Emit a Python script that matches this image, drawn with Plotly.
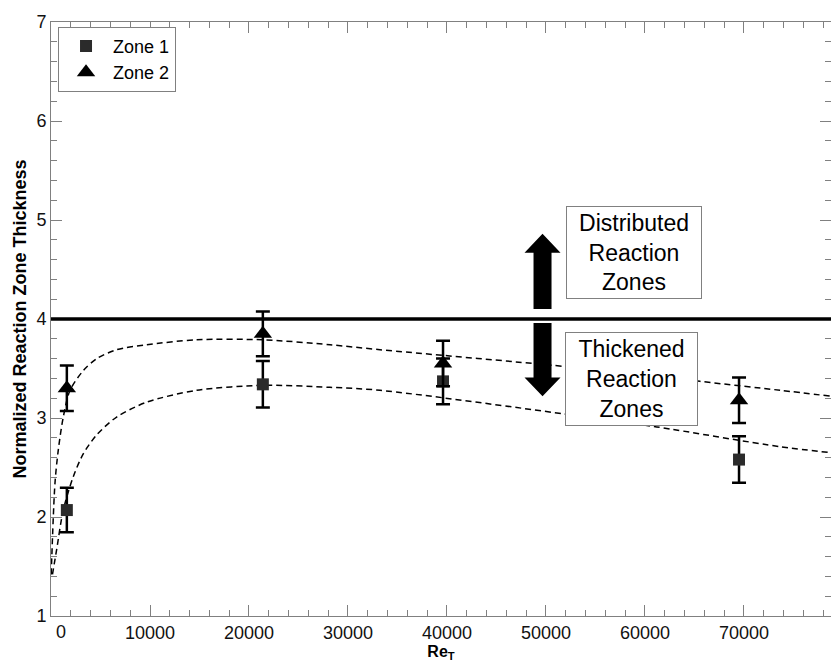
import plotly.graph_objects as go

# ---- data ----
re_t = [1600, 21400, 39600, 69500]
zone1 = [2.07, 3.34, 3.37, 2.58]
zone1_err = [0.225, 0.235, 0.23, 0.235]
zone2 = [3.30, 3.85, 3.55, 3.18]
zone2_err = [0.23, 0.225, 0.23, 0.23]

# dashed fit curves
fit2_x = [20, 400, 740, 1240, 1920, 3270, 4620, 6630, 9670, 14720, 21450, 28180, 33230, 51920, 65560, 73640, 78790]
fit2_y = [1.42, 2.34, 2.68, 3.01, 3.28, 3.48, 3.60, 3.69, 3.74, 3.79, 3.79, 3.74, 3.69, 3.52, 3.37, 3.28, 3.22]
fit1_x = [150, 570, 1240, 2260, 3270, 4620, 6630, 9670, 14720, 21450, 28180, 33230, 51920, 61180, 73640, 78790]
fit1_y = [1.42, 1.67, 2.07, 2.41, 2.64, 2.83, 3.01, 3.16, 3.28, 3.33, 3.31, 3.28, 3.04, 2.91, 2.71, 2.65]

threshold = 4.0
x_ticks = [0, 10000, 20000, 30000, 40000, 50000, 60000, 70000]
x_ticktext = ["", "10000", "20000", "30000", "40000", "50000", "60000", "70000"]
y_ticks = [1, 2, 3, 4, 5, 6, 7]

FONT = "Liberation Sans, Arial, sans-serif"
GRAY = "#808080"

fig = go.Figure()

fig.add_trace(go.Scatter(x=fit2_x, y=fit2_y, mode="lines", showlegend=False,
                         line=dict(color="black", width=1.5, dash="6px,4px", shape="spline", smoothing=0.8),
                         hoverinfo="skip"))
fig.add_trace(go.Scatter(x=fit1_x, y=fit1_y, mode="lines", showlegend=False,
                         line=dict(color="black", width=1.5, dash="6px,4px", shape="spline", smoothing=0.8),
                         hoverinfo="skip"))

fig.add_trace(go.Scatter(x=re_t, y=zone1, mode="markers", name="Zone 1",
                         marker=dict(symbol="square", size=12, color="#2b2b2b"),
                         error_y=dict(type="data", array=zone1_err, color="black", thickness=2.5, width=7)))
fig.add_trace(go.Scatter(x=re_t, y=zone2, mode="markers", name="Zone 2",
                         marker=dict(symbol="triangle-up", size=16, color="black"),
                         error_y=dict(type="data", array=zone2_err, color="black", thickness=2.5, width=7)))

# threshold line
fig.add_shape(type="line", xref="paper", x0=0, x1=1, yref="y", y0=threshold, y1=threshold,
              line=dict(color="black", width=3.5), layer="above")

# thick arrows (x in pixels around anchor)
ax_anchor = 49650
fig.add_shape(type="path", xref="x", yref="y", xsizemode="pixel", xanchor=ax_anchor,
              path="M -9,4.10 L 9,4.10 L 9,4.67 L 18,4.67 L 0,4.86 L -18,4.67 L -9,4.67 Z",
              fillcolor="black", line=dict(color="black", width=0))
fig.add_shape(type="path", xref="x", yref="y", xsizemode="pixel", xanchor=ax_anchor,
              path="M -9,3.96 L 9,3.96 L 9,3.41 L 18,3.41 L 0,3.22 L -18,3.41 L -9,3.41 Z",
              fillcolor="black", line=dict(color="black", width=0))

# text boxes
fig.add_annotation(x=58900, y=4.67, xref="x", yref="y", showarrow=False,
                   text="Distributed<br>Reaction<br>Zones", font=dict(size=23, color="black", family=FONT),
                   bgcolor="white", bordercolor=GRAY, borderwidth=1, borderpad=0, width=134, height=91)
fig.add_annotation(x=58640, y=3.39, xref="x", yref="y", showarrow=False,
                   text="Thickened<br>Reaction<br>Zones", font=dict(size=23, color="black", family=FONT),
                   bgcolor="white", bordercolor=GRAY, borderwidth=1, borderpad=0, width=131, height=92)

# "0" tick label, drawn slightly right of the axis corner as in the reference
fig.add_annotation(x=1000, y=0, xref="x", yref="paper", yanchor="top", yshift=-4, showarrow=False,
                   text="0", font=dict(size=18, color="#111", family=FONT))

fig.update_xaxes(range=[0, 78790], tickvals=x_ticks, ticktext=x_ticktext, ticks="inside", ticklen=11,
                 tickcolor=GRAY, tickwidth=1,
                 showline=True, linecolor=GRAY, linewidth=1, mirror="ticks", showgrid=False, zeroline=False,
                 minor=dict(dtick=2000, ticks="inside", ticklen=6, tickcolor=GRAY, tickwidth=1, showgrid=False),
                 tickfont=dict(size=18, color="#111", family=FONT),
                 title=dict(text="<b>Re<sub>T</sub></b>", font=dict(size=16, color="black", family=FONT), standoff=1))
fig.update_yaxes(range=[1, 7], tickvals=y_ticks, ticks="inside", ticklen=11, tickcolor=GRAY, tickwidth=1,
                 showline=True, linecolor=GRAY, linewidth=1, mirror="ticks", showgrid=False, zeroline=False,
                 minor=dict(dtick=0.2, ticks="inside", ticklen=6, tickcolor=GRAY, tickwidth=1, showgrid=False),
                 tickfont=dict(size=18, color="#111", family=FONT),
                 title=dict(text="<b>Normalized Reaction Zone Thickness</b>", font=dict(size=18, color="black", family=FONT), standoff=5))

fig.update_layout(
    width=831, height=663,
    margin=dict(l=51, r=0, t=22, b=47),
    plot_bgcolor="white", paper_bgcolor="white",
    font=dict(family=FONT, color="black"),
    legend=dict(x=0.009, y=0.992, xanchor="left", yanchor="top", bgcolor="white",
                bordercolor=GRAY, borderwidth=1, font=dict(size=18, family=FONT, color="black"),
                itemwidth=44, tracegroupgap=0),
)

fig.write_html("out.html", config={"displayModeBar": False},
               post_script="document.body.style.margin='0px';document.body.style.padding='0px';")
